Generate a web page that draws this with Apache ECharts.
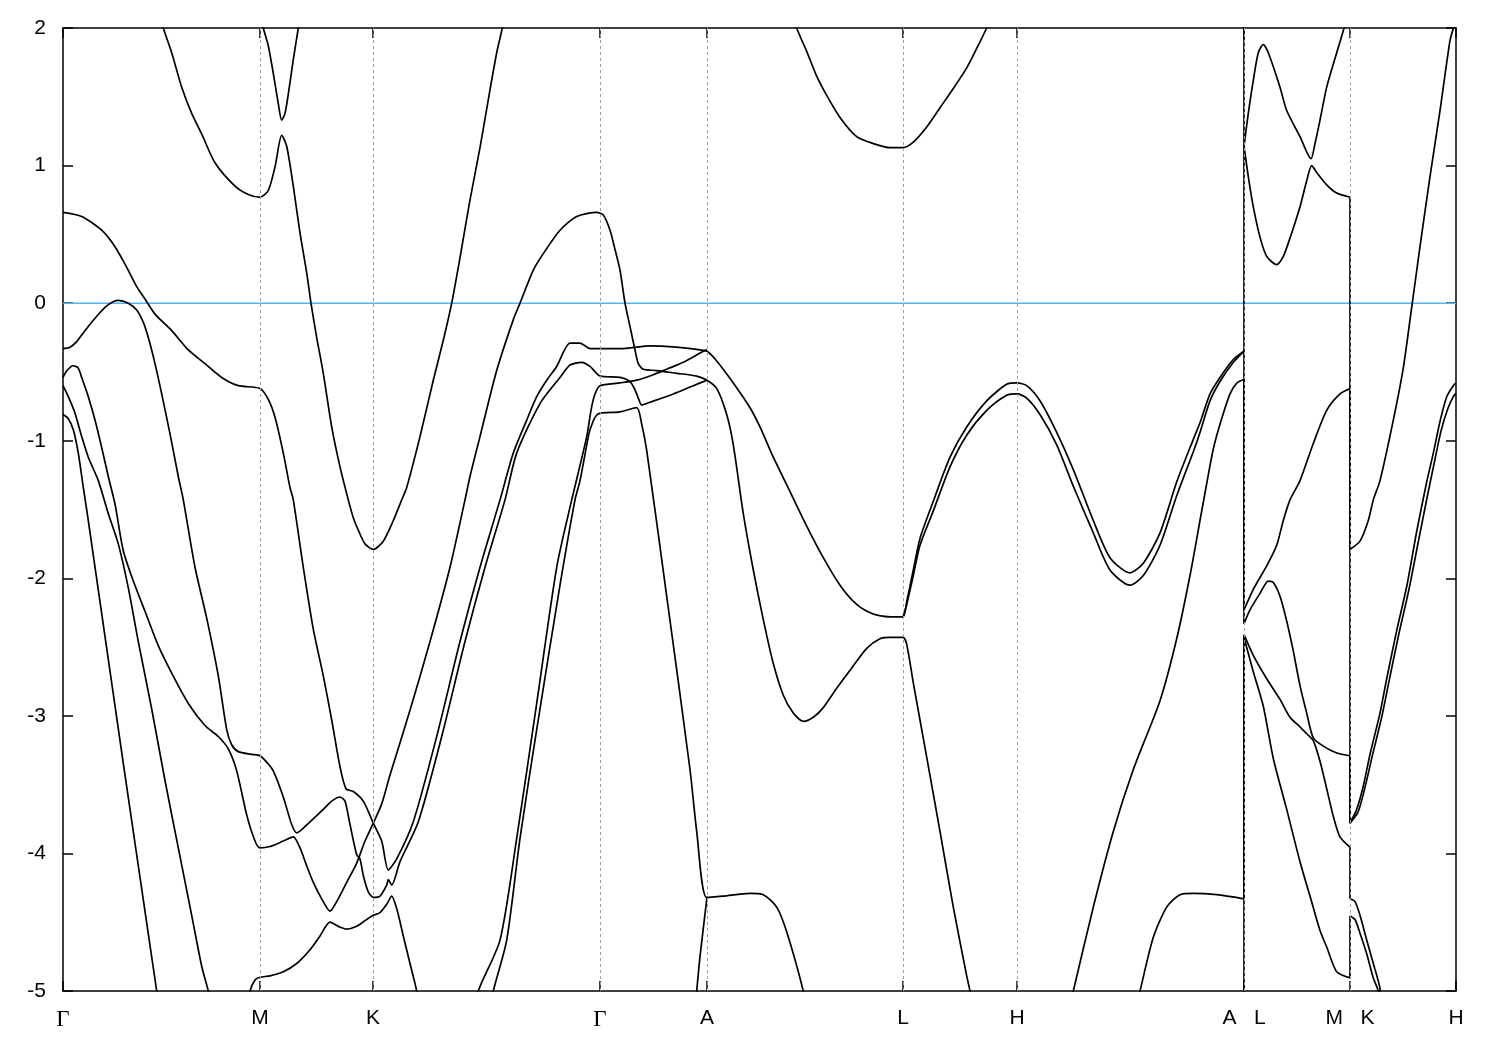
<!DOCTYPE html>
<html><head><meta charset="utf-8">
<script src="https://cdn.jsdelivr.net/npm/echarts@6/dist/echarts.min.js"></script>
<style>html,body{margin:0;padding:0;background:#fff}#c{width:1500px;height:1050px}</style>
</head><body><div id="c"></div>
<script>
// High-symmetry path positions (k, arbitrary units) and their labels
const kTicks = [0, 197, 310, 537, 644, 840, 954, 1181, 1287, 1393];
const kLabels = ['Γ', 'M', 'K', 'Γ', 'A', 'L', 'H', 'A   L', 'M   K', 'H'];
const eMin = -5, eMax = 2, eStep = 1;
const fermi = 0;

// Bands: [k, E(eV)]
const band01 = [[0,0.66],[18.7,0.63],[38.7,0.53],[52,0.41],[63.7,0.26],[73.7,0.12],[82,0.03],[92,-0.08],[108.7,-0.2],[125.3,-0.34],[142,-0.44],[158.7,-0.54],[175.3,-0.6],[197,-0.62],[205.3,-0.7],[212,-0.83],[220.3,-1.09],[227,-1.34],[230.3,-1.43],[240.3,-1.92],[250.3,-2.37],[260.3,-2.71],[268.7,-3.03],[277,-3.37],[283,-3.53],[290.3,-3.55],[300.3,-3.62],[310.3,-3.78],[318.7,-3.91],[325.3,-4.12],[333.7,-4.04],[350.3,-3.77],[373.7,-3.15],[397,-2.46],[417,-1.92],[437,-1.43],[450.3,-1.09],[463.7,-0.85],[473.7,-0.68],[483.7,-0.56],[493.7,-0.46],[507,-0.29],[517,-0.29],[527,-0.33],[537,-0.33],[560.3,-0.33],[587,-0.31],[613.7,-0.32],[637,-0.34],[644,-0.35],[653.7,-0.42],[670.3,-0.58],[687,-0.76],[697,-0.9],[710.3,-1.12],[727,-1.37],[743.7,-1.62],[760.3,-1.85],[777,-2.05],[793.7,-2.19],[810.3,-2.26],[827,-2.28],[840,-2.28],[843.7,-2.17],[850.3,-1.94],[857,-1.71],[870.3,-1.44],[887,-1.12],[903.7,-0.9],[923.7,-0.71],[943.7,-0.59],[954,-0.58],[963.7,-0.6],[977,-0.71],[993.7,-0.94],[1010.3,-1.21],[1030.3,-1.58],[1047,-1.85],[1067,-1.96],[1080.3,-1.89],[1097,-1.67],[1113.7,-1.3],[1130.3,-0.99],[1137,-0.87],[1147,-0.66],[1157,-0.54],[1170.3,-0.41],[1181,-0.35],[1181,1.14],[1185.3,0.92],[1190.3,0.7],[1197,0.48],[1203.7,0.34],[1213.7,0.28],[1220.3,0.34],[1228.7,0.51],[1237,0.7],[1243.7,0.89],[1248.7,1.0],[1253.7,0.95],[1263.7,0.86],[1273.7,0.8],[1287,0.77],[1287,-1.79],[1297,-1.73],[1305.3,-1.58],[1310.3,-1.43],[1317,-1.29],[1330.3,-0.85],[1340.3,-0.47],[1348.7,-0.03],[1357,0.41],[1367,0.92],[1377,1.4],[1387,1.91],[1390.3,2.0],[1391,2.05]];
const band02 = [[0,-0.33],[7,-0.32],[13.7,-0.28],[22,-0.2],[32,-0.11],[43.7,-0.02],[55.3,0.02],[65.3,0.0],[73.7,-0.05],[80.3,-0.14],[85.3,-0.25],[92,-0.44],[98.7,-0.66],[107,-0.95],[115.3,-1.26],[120.3,-1.43],[132,-1.92],[143.7,-2.29],[155.3,-2.71],[163.7,-3.1],[168.7,-3.21],[175.3,-3.26],[188.7,-3.28],[197,-3.29],[205.3,-3.35],[210.3,-3.4],[220.3,-3.59],[228.7,-3.79],[233.7,-3.85],[247,-3.77],[260.3,-3.68],[268.7,-3.62],[277,-3.59],[282,-3.62],[287,-3.79],[293.7,-4.01],[297,-4.04],[300.3,-4.16],[305.3,-4.28],[310.3,-4.32],[317,-4.31],[323.7,-4.23],[325.3,-4.19],[328.7,-4.23],[337,-4.06],[355.3,-3.77],[378.7,-3.15],[402,-2.46],[422,-1.92],[442,-1.43],[453.7,-1.09],[477,-0.73],[497,-0.54],[507,-0.45],[518.7,-0.43],[527,-0.46],[537,-0.53],[557,-0.54],[567,-0.57],[572,-0.63],[575.3,-0.69],[578.7,-0.74],[587,-0.72],[610.3,-0.66],[630.3,-0.6],[644,-0.56]];
const band03 = [[0,-0.81],[5.3,-0.84],[10.3,-0.92],[15.3,-1.09],[20.3,-1.34],[25.3,-1.58],[60,-3.33],[93.7,-5.0],[97.7,-5.2]];
const band04 = [[0,-0.6],[5.3,-0.68],[12,-0.8],[18.7,-0.97],[25.3,-1.12],[35.3,-1.29],[45.3,-1.53],[55.3,-1.75],[65.3,-2.07],[75.3,-2.46],[88.7,-2.95],[102,-3.47],[115.3,-3.96],[128.7,-4.45],[138.7,-4.82],[145.3,-5.0],[148,-5.1]];
const band05 = [[0,-0.54],[4,-0.49],[10,-0.455],[15,-0.47],[18.7,-0.54],[25.3,-0.68],[32,-0.85],[38.7,-1.05],[45.3,-1.26],[52,-1.46],[60.3,-1.8],[70.3,-2.02],[82,-2.24],[95.3,-2.49],[108.7,-2.69],[125.3,-2.91],[142,-3.07],[155.3,-3.15],[165.3,-3.24],[173.7,-3.4],[183.7,-3.72],[192,-3.91],[197,-3.96],[207,-3.95],[220.3,-3.91],[230.3,-3.88],[237,-3.96],[243.7,-4.09],[250.3,-4.21],[258.7,-4.33],[267,-4.42],[273.7,-4.35],[283.7,-4.21],[293.7,-4.07],[302,-3.91],[310.3,-3.78],[318.7,-3.64],[327,-3.43],[347,-2.96],[367,-2.46],[387,-1.92],[402,-1.43],[407,-1.26],[417,-0.97],[433.7,-0.49],[450.3,-0.12],[457,0.0],[470.3,0.24],[480.3,0.36],[497,0.53],[513.7,0.63],[533.7,0.66],[540.3,0.64],[547,0.53],[552,0.39],[557,0.24],[562,0.0],[567,-0.17],[572,-0.34],[575.3,-0.44],[580.3,-0.48],[593.7,-0.49],[613.7,-0.51],[633.7,-0.53],[644,-0.56],[653.7,-0.62],[663.7,-0.81],[670.3,-1.03],[680.3,-1.53],[690.3,-1.94],[700.3,-2.3],[710.3,-2.62],[720.3,-2.85],[730.3,-2.98],[740.3,-3.04],[750.3,-3.01],[760.3,-2.94],[773.7,-2.8],[787,-2.67],[803.7,-2.51],[817,-2.44],[827,-2.43],[840,-2.43],[843.7,-2.48],[850.3,-2.76],[863.7,-3.3],[877,-3.84],[890.3,-4.39],[903.7,-4.89],[907,-5.0],[909,-5.1]];
const band06 = [[98,2.08],[100.3,2.0],[108.7,1.82],[118.7,1.57],[128.7,1.38],[138.7,1.23],[152,1.02],[172,0.85],[185.3,0.79],[197,0.77],[205.3,0.82],[212,0.99],[218.7,1.22],[223.7,1.14],[230.3,0.85],[237,0.51],[243.7,0.22],[248,0.0],[253.7,-0.25],[260.3,-0.51],[268.7,-0.9],[277,-1.19],[285.3,-1.43],[290.3,-1.56],[295.3,-1.65],[302,-1.75],[310.3,-1.79],[320.3,-1.73],[330.3,-1.58],[338.7,-1.43],[343.7,-1.34],[357,-0.97],[370.3,-0.56],[380.3,-0.27],[388.7,0.0],[397,0.33],[407,0.75],[417,1.13],[425.3,1.48],[433.7,1.82],[439.3,2.0],[441,2.08]];
const band07 = [[199.3,2.05],[200.3,2.0],[205.3,1.87],[210.3,1.67],[215.3,1.45],[218.7,1.33],[222,1.38],[225.3,1.52],[230.3,1.77],[235.3,2.0],[236.3,2.05]];
const band08 = [[185.5,-5.1],[187,-5.0],[192,-4.92],[197,-4.9],[207,-4.89],[220.3,-4.86],[233.7,-4.8],[247,-4.7],[257,-4.6],[267,-4.5],[275.3,-4.53],[283.7,-4.55],[293.7,-4.53],[303.7,-4.48],[310.3,-4.45],[317,-4.43],[323.7,-4.37],[328.7,-4.31],[333.7,-4.4],[340.3,-4.6],[347,-4.8],[353.7,-5.0],[355,-5.1]];
const band09 = [[413,-5.15],[415.3,-5.0],[437,-4.63],[453.7,-3.89],[473.7,-2.91],[493.7,-1.92],[508.7,-1.43],[513.7,-1.28],[523.7,-0.97],[528.5,-0.76],[532,-0.66],[537,-0.6],[557,-0.58],[573.7,-0.56],[590.3,-0.52],[603.7,-0.48],[620.3,-0.43],[640.3,-0.35],[644,-0.34]];
const band10 = [[428,-5.12],[430.3,-5.0],[443.7,-4.63],[457,-3.89],[473.7,-3.1],[497,-2.05],[512,-1.43],[517,-1.29],[525.3,-0.97],[527,-0.92],[532,-0.83],[537,-0.8],[557,-0.79],[573.7,-0.76],[578.7,-0.88],[583.7,-1.07],[605,-2.2],[627,-3.39],[633.7,-3.84],[643.7,-4.32],[660.3,-4.31],[687,-4.29],[700.3,-4.3],[713.7,-4.39],[723.7,-4.57],[740.3,-5.0],[742,-5.1]];
const band11 = [[630,-5.27],[633.7,-5.0],[637,-4.75],[644,-4.32]];
const band12 = [[731,2.1],[733.7,2.0],[743.7,1.83],[753.7,1.65],[763.7,1.51],[777,1.35],[793.7,1.21],[810.3,1.16],[827,1.13],[840,1.13],[850.3,1.17],[863.7,1.28],[877,1.42],[890.3,1.56],[903.7,1.71],[917,1.9],[923.7,2.0],[930,2.1],[1181,2.6],[1181,1.14],[1185.3,1.38],[1190.3,1.62],[1195.3,1.82],[1200.3,1.88],[1205.3,1.82],[1217,1.57],[1223.7,1.4],[1237,1.21],[1248,1.05],[1252,1.16],[1257,1.33],[1263.7,1.57],[1273.7,1.82],[1281,2.0],[1283,2.08]];
const band13 = [[840,-2.28],[843.7,-2.19],[850.3,-1.98],[857,-1.76],[870.3,-1.51],[887,-1.19],[903.7,-0.96],[923.7,-0.78],[943.7,-0.67],[954,-0.66],[963.7,-0.69],[977,-0.81],[993.7,-1.03],[1010.3,-1.33],[1030.3,-1.67],[1047,-1.94],[1067,-2.05],[1080.3,-1.98],[1097,-1.76],[1113.7,-1.4],[1130.3,-1.08],[1137,-0.94],[1147,-0.71],[1157,-0.57],[1170.3,-0.43],[1181,-0.35],[1181,-2.23],[1190.3,-2.08],[1203.7,-1.91],[1213.7,-1.76],[1220.3,-1.58],[1227,-1.43],[1237,-1.29],[1250.3,-1.02],[1263.7,-0.78],[1277,-0.66],[1287,-0.62],[1287,-3.78],[1293.7,-3.68],[1300.3,-3.51],[1307,-3.28],[1317,-2.98],[1323.7,-2.73],[1333.7,-2.38],[1343.7,-2.06],[1353.7,-1.66],[1363.7,-1.3],[1370.3,-1.09],[1377,-0.86],[1383.7,-0.68],[1390.3,-0.6],[1393,-0.58]];
const band14 = [[1007,-5.1],[1010.3,-5.0],[1030.3,-4.39],[1050.3,-3.84],[1070.3,-3.39],[1097,-2.89],[1113.7,-2.44],[1127,-1.98],[1137,-1.58],[1144,-1.3],[1150.3,-1.06],[1157,-0.88],[1167,-0.66],[1174,-0.58],[1181,-0.555],[1181,-2.33],[1187,-2.23],[1197,-2.11],[1205.3,-2.02],[1210.3,-2.03],[1217,-2.13],[1223.7,-2.31],[1230.3,-2.53],[1237,-2.78],[1243.7,-2.98],[1250.3,-3.16],[1260.3,-3.22],[1273.7,-3.27],[1287,-3.29],[1287,-3.78],[1295,-3.7],[1302,-3.52],[1309,-3.3],[1319,-3.0],[1325.7,-2.76],[1335.7,-2.41],[1345.7,-2.09],[1355.7,-1.72],[1365,-1.38],[1371,-1.17],[1378,-0.93],[1384.7,-0.77],[1390.3,-0.68],[1393,-0.656]];
const band15 = [[1073.5,-5.1],[1077,-5.0],[1090.3,-4.61],[1103.7,-4.39],[1117,-4.3],[1130.3,-4.29],[1153.7,-4.3],[1181,-4.33],[1181,-2.41],[1190.3,-2.56],[1203.7,-2.73],[1217,-2.88],[1227,-3.01],[1237,-3.08],[1243.7,-3.13],[1250.3,-3.18],[1257,-3.33],[1263.7,-3.53],[1270.3,-3.73],[1277,-3.88],[1287,-3.955],[1287,-4.33],[1292,-4.35],[1297,-4.45],[1303.7,-4.63],[1310.3,-4.8],[1317,-4.98],[1318,-5.1]];
const band16 = [[1181,-5.5],[1181,-2.43],[1190.3,-2.68],[1200.3,-2.93],[1210.3,-3.31],[1223.7,-3.68],[1237,-4.06],[1247,-4.31],[1257,-4.56],[1263.7,-4.68],[1273.7,-4.86],[1287,-4.905],[1287,-4.454],[1292,-4.48],[1297,-4.58],[1303.7,-4.73],[1310.3,-4.905],[1315.3,-5.0],[1317,-5.1]];

const bands = [band01, band02, band03, band04, band05, band06, band07, band08,
               band09, band10, band11, band12, band13, band14, band15, band16];

const chart = echarts.init(document.getElementById('c'), null, {renderer: 'canvas'});
const kMin = kTicks[0], kMax = kTicks[kTicks.length - 1];
const font = 'Liberation Sans';

function xLabel(v) {
  const i = kTicks.indexOf(v);
  const s = i >= 0 ? kLabels[i] : '';
  return s === 'Γ' ? '{g|Γ}' : s;
}

// split each band at the zone-boundary jumps (repeated k) so that the
// smooth parts can be drawn smoothly and the jumps stay straight
function pieces(b) {
  const out = [];
  let cur = [b[0]];
  for (let i = 1; i < b.length; i++) {
    if (b[i][0] === b[i - 1][0]) {
      out.push({pts: cur, jump: false});
      out.push({pts: [b[i - 1], b[i]], jump: true});
      cur = [b[i]];
    } else {
      cur.push(b[i]);
    }
  }
  out.push({pts: cur, jump: false});
  return out.filter(p => p.pts.length > 1);
}

const axisCommonX = {
  type: 'value', min: kMin, max: kMax,
  axisLine: {show: true, onZero: false, lineStyle: {color: '#000', width: 1.5}},
  axisTick: {show: true, inside: true, length: 10, customValues: kTicks, lineStyle: {color: '#000', width: 1.5}},
  splitLine: {show: false}
};
const axisCommonY = {
  type: 'value', min: eMin, max: eMax, interval: eStep,
  axisLine: {show: true, onZero: false, lineStyle: {color: '#000', width: 1.5}},
  axisTick: {show: true, inside: true, length: 10, lineStyle: {color: '#000', width: 1.5}},
  splitLine: {show: false}
};

const series = [];
series.push({
  type: 'line', data: [], z: 1, silent: true, animation: false,
  markLine: {
    silent: true, symbol: ['none', 'none'], label: {show: false}, animation: false,
    lineStyle: {color: '#a0a0a0', width: 1, type: [3, 3]},
    emphasis: {disabled: true},
    data: kTicks.slice(1, -1).map(k => ({xAxis: k}))
  }
});
series.push({
  type: 'line', data: [[kMin, fermi], [kMax, fermi]], showSymbol: false, symbol: 'none',
  lineStyle: {color: '#56b4e9', width: 1.5}, z: 2, silent: true, animation: false
});
bands.forEach((b, i) => {
  pieces(b).forEach(p => {
    series.push({
      name: 'band' + (i + 1), type: 'line', data: p.pts,
      showSymbol: false, symbol: 'none', smooth: p.jump ? false : 0.25, clip: true,
      lineStyle: {color: '#000', width: 1.7}, z: 3, silent: true, animation: false
    });
  });
});

chart.setOption({
  animation: false,
  backgroundColor: '#fff',
  grid: {left: 63, right: 44, top: 28, bottom: 59, containLabel: false},
  xAxis: [
    Object.assign({}, axisCommonX, {
      position: 'bottom',
      axisLabel: {show: true, customValues: kTicks, formatter: xLabel, color: '#000',
        fontFamily: font, fontSize: 21, margin: 17,
        rich: {g: {fontFamily: 'Liberation Serif', fontSize: 23, color: '#000'}}}
    }),
    Object.assign({}, axisCommonX, {position: 'top', axisLabel: {show: false}})
  ],
  yAxis: [
    Object.assign({}, axisCommonY, {
      position: 'left',
      axisLabel: {show: true, color: '#000', fontFamily: font, fontSize: 21, margin: 17}
    }),
    Object.assign({}, axisCommonY, {position: 'right', axisLabel: {show: false}})
  ],
  series: series
});
</script></body></html>
